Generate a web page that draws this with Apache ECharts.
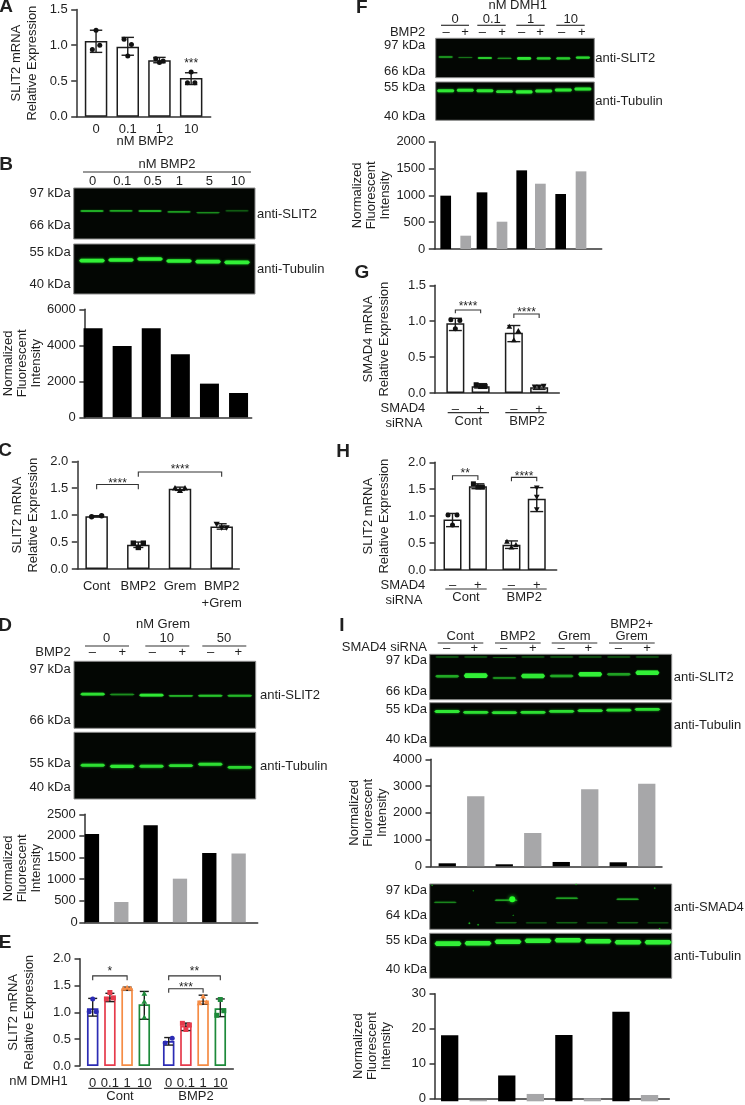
<!DOCTYPE html>
<html><head><meta charset="utf-8">
<style>html,body{margin:0;padding:0;background:#fff}#c{width:745px;height:1105px}</style>
<script src="https://cdn.jsdelivr.net/npm/echarts@6/dist/echarts.min.js"></script>
</head><body><div id="c"></div>
<script>
// ---------- DATA ----------
const A_categories=['0','0.1','1','10'];
const A_values=[1.06,0.98,0.79,0.54];
const A_points=[[1.21,1.0,0.94],[0.85,1.01,1.085],[0.76,0.78,0.81],[0.625,0.475,0.475]];
const A_high=[1.21,1.11,0.83,0.615];
const A_low=[0.90,0.86,0.755,0.45];

const B_categories=['0','0.1','0.5','1','5','10'];
const B_values=[4945,3960,4945,3500,1870,1350];
const B_slit2_pos=[.45,.45,.45,.47,.485,.45];
const B_slit2_int=[.75,.72,.78,.65,.55,.38];
const B_tub_pos=[.333,.32,.30,.34,.353,.367];
const B_tub_int=[1,1,1,1,1,1];

const C_categories=['Cont','BMP2','Grem','BMP2\n+Grem'];
const C_values=[0.98,0.45,1.49,0.79];
const C_points=[[0.97,0.99],[0.40,0.48,0.48],[1.455,1.5,1.5],[0.77,0.77,0.835]];
const C_high=[0.99,0.50,1.52,0.84];
const C_low=[0.97,0.40,1.46,0.74];

const D_categories=['0 –','0 +','10 –','10 +','50 –','50 +'];
const D_values=[2045,470,2245,1010,1605,1590];
const D_slit2_pos=[.49,.495,.505,.515,.515,.515];
const D_slit2_int=[.9,.45,.95,.65,.75,.68];
const D_tub_pos=[.495,.51,.51,.50,.48,.525];
const D_tub_int=[.9,.95,.9,.9,.9,.85];

const E_categories=['0','0.1','1','10'];
const E_values=[1.075,1.28,1.45,1.15,0.465,0.75,1.22,1.075];
const E_points=[[1.25,1.01,1.01],[1.37,1.27,1.25],[1.46,1.44,1.44],[1.35,1.2,0.905],[0.43,0.515],[0.68,0.765,0.795],[1.30,1.185,1.17],[1.24,1.03,0.945]];
const E_high=[1.26,1.355,1.47,1.39,0.53,0.80,1.32,1.25];
const E_low=[0.93,1.2,1.41,0.87,0.39,0.66,1.15,0.92];

const F_categories=['0 –','0 +','0.1 –','0.1 +','1 –','1 +','10 –','10 +'];
const F_values=[994,248,1056,509,1466,1217,1025,1447];
const F_slit2_pos=[.475,.49,.50,.51,.51,.51,.51,.49];
const F_slit2_int=[.55,.3,.8,.45,.95,.8,.8,.85];
const F_tub_pos=[.227,.217,.227,.253,.26,.235,.21,.183];
const F_tub_int=[.95,.95,.95,.9,1,.95,.95,.95];

const G_categories=['–','+'];
const G_values=[0.97,0.093,0.84,0.08];
const G_points=[[0.895,1.01,1.02],[0.09,0.09,0.115],[0.735,0.865,0.925],[0.09,0.1,0.09]];
const G_high=[1.04,0.13,0.94,0.10];
const G_low=[0.87,0.07,0.715,0.05];

const H_categories=['–','+'];
const H_values=[0.94,1.555,0.47,1.325];
const H_points=[[0.835,1.02,1.02],[1.54,1.54,1.6],[0.42,0.465,0.525],[1.53,1.36,1.127]];
const H_high=[1.05,1.6,0.54,1.53];
const H_low=[0.805,1.51,0.40,1.085];

const I_categories=['Cont –','Cont +','BMP2 –','BMP2 +','Grem –','Grem +','BMP2+Grem –','BMP2+Grem +'];
const I_slit2_values=[112,2617,75,1246,162,2878,150,3090];
const I_smad4_values=[18.4,0.4,7.2,2.05,18.5,0.85,25,1.75];
const I_slit2_pos=[.485,.47,.52,.478,.478,.44,.44,.405];
const I_slit2_int=[.6,1,.45,.95,.6,1,.55,1];
const I_slit2_upper_pos=[.06,.06,.07,.06,.06,.06,.06,.06];
const I_slit2_upper_int=[.18,.16,.16,.16,.18,.16,.16,.14];
const I_tub1_pos=[.2,.217,.225,.217,.195,.18,.17,.15];
const I_tub1_int=[.95,.9,.9,.9,.9,.9,.9,.9];
const I_smad4_lanes=[0,2,4,6];
const I_smad4_pos=[.405,.36,.315,.338];
const I_smad4_int=[.4,.55,.55,.55];
const I_smad4_lower_lanes=[2,3,4,5,6,7];
const I_smad4_lower_pos=[.855,.86,.855,.86,.855,.86];
const I_smad4_lower_int=[.22,.18,.22,.18,.22,.15];
const I_smad4_specks=[[.341,.338,3,1],[.164,.868,.8,.6],[.2,.9,.7,.5],[.01,.03,.6,.5],[.18,.15,.5,.4],[.605,.01,.6,.5],[.93,.09,.7,.5],[.345,.69,.5,.4],[.95,.985,.7,.6]];
const I_tub2_pos=[.23,.22,.187,.165,.155,.178,.2,.2];
const I_tub2_int=[1,1,1,1,1,1,1,1];

// ---------- STYLE ----------
const FONT='"Liberation Sans",Arial,sans-serif', TXT='#1f1f1f', AX='#333';
const BLK='#000', GRY='#a7a7a9';
const BLUE='#2c2cb4', RED='#e63b4c', ORG='#f58c45', GRN='#1d8a3a';
const TWO=[BLK,GRY];

const grid=[],xAxis=[],yAxis=[],series=[],graphic=[];

function T(x,y,text,align,size,weight){
  graphic.push({type:'text',silent:true,z:50,style:{x,y,text,fill:TXT,textAlign:align||'center',textVerticalAlign:'middle',font:`${weight||'normal'} ${size||13}px ${FONT}`}});
}
function L(x1,x2,y){
  graphic.push({type:'line',silent:true,z:50,shape:{x1,y1:y,x2,y2:y},style:{stroke:'#333',lineWidth:1.2}});
}
function addGrid(g,x,y){ grid.push(g); const i=grid.length-1; x.gridIndex=i; y.gridIndex=i; xAxis.push(x); yAxis.push(y); return i; }

// axis frame of one chart
function frame(o){
  addGrid({left:o.left,top:o.top,width:o.right-o.left,height:o.bottom-o.top,show:false},
   {type:'value',min:0,max:1,offset:o.offset||0,axisLine:{show:true,onZero:false,lineStyle:{color:AX,width:1.5}},axisTick:{show:false},axisLabel:{show:false},splitLine:{show:false}},
   {type:'value',min:o.min,max:o.max,interval:o.interval,
    axisLine:{show:true,onZero:false,lineStyle:{color:AX,width:1.5}},
    axisTick:{show:true,length:5.5,lineStyle:{color:AX,width:1.5}},
    splitLine:{show:false},
    axisLabel:{margin:9,color:TXT,fontFamily:FONT,fontSize:13,formatter:v=>(o.hideZero&&v===0)?'':(o.fixed!=null?v.toFixed(o.fixed):String(v))},
    name:o.name,nameLocation:'middle',nameRotate:90,nameGap:o.gap,
    nameTextStyle:{color:TXT,fontFamily:FONT,fontSize:13,lineHeight:o.lh||16,align:'center'}});
}
function marker(kind,x,y,r,fill){
  if(kind==='circle') return {type:'circle',shape:{cx:x,cy:y,r},style:{fill}};
  if(kind==='square') return {type:'rect',shape:{x:x-r,y:y-r,width:2*r,height:2*r},style:{fill}};
  if(kind==='tri') return {type:'polygon',shape:{points:[[x,y-r*1.15],[x+r*1.15,y+r*.85],[x-r*1.15,y+r*.85]]},style:{fill}};
  return {type:'polygon',shape:{points:[[x,y+r*1.15],[x+r*1.15,y-r*.85],[x-r*1.15,y-r*.85]]},style:{fill}};
}
// bars, error bars, points and brackets of one group, on a shared scale
function bars(o){
  const idx=addGrid({left:o.left,top:o.top,width:o.width,height:o.bottom-o.top,show:false},
   {type:'category',data:o.cats,axisLine:{show:false},axisTick:{show:false},splitLine:{show:false},
    axisLabel:{show:!!o.labelMargin,interval:0,margin:o.labelMargin||0,color:TXT,fontFamily:FONT,fontSize:13,lineHeight:17,hideOverlap:false}},
   {type:'value',min:o.min,max:o.max,show:false,splitLine:{show:false}});
  series.push({type:'bar',xAxisIndex:idx,yAxisIndex:idx,barWidth:o.barW,z:2,silent:true,animation:false,
    data:o.values.map((v,i)=>({value:v,itemStyle:o.outline
       ?{color:'#fff',borderColor:o.outline[i],borderWidth:o.bw||1.5}
       :{color:o.fills[i]}}))});
  if(o.high){
    const capW=o.cap||6.2;
    series.push({type:'custom',xAxisIndex:idx,yAxisIndex:idx,z:3,silent:true,clip:false,encode:{x:0,y:1},
      data:o.high.map((h,i)=>[i,h,o.low[i]]),
      renderItem:(p,api)=>{
        const a=api.coord([api.value(0),api.value(1)]),b=api.coord([api.value(0),api.value(2)]);
        const st={stroke:'#1c1c1c',lineWidth:1.4};
        return {type:'group',children:[
         {type:'line',shape:{x1:a[0],y1:a[1],x2:b[0],y2:b[1]},style:st},
         {type:'line',shape:{x1:a[0]-capW,y1:a[1],x2:a[0]+capW,y2:a[1]},style:st},
         {type:'line',shape:{x1:b[0]-capW,y1:b[1],x2:b[0]+capW,y2:b[1]},style:st}]};
      }});
  }
  if(o.points){
    const ppu=(o.bottom-o.top)/(o.max-o.min), rows=[];
    o.points.forEach((pts,i)=>{
      const slots=pts.length===2?[-1,1]:[0,1,-1];
      pts.forEach((v,j)=>{
        const near=pts.some((w,k)=>k!==j&&Math.abs(w-v)*ppu<7);
        rows.push([i,v,near?slots[j]:0]);
      });
    });
    series.push({type:'custom',xAxisIndex:idx,yAxisIndex:idx,z:4,silent:true,clip:false,encode:{x:0,y:1},data:rows,
      renderItem:(p,api)=>{
        const i=api.value(0),c=api.coord([i,api.value(1)]);
        return marker(o.markers[i],c[0]+api.value(2)*o.spread,c[1],o.r||2.5,o.pointColors?o.pointColors[i]:'#111');
      }});
  }
  if(o.brackets){
    series.push({type:'custom',xAxisIndex:idx,yAxisIndex:idx,z:5,silent:true,clip:false,encode:{x:0,y:2},data:o.brackets.map(b=>b.slice(0,5)),
      renderItem:(p,api)=>{
        const a=api.coord([api.value(0),api.value(2)]),b=api.coord([api.value(1),api.value(2)]),
              f=api.coord([api.value(0),api.value(3)]),m=api.coord([(api.value(0)+api.value(1))/2,api.value(4)]);
        const lab=o.brackets[p.dataIndex][5];
        return {type:'group',children:[
          {type:'polyline',shape:{points:[[a[0],f[1]],a,b,[b[0],f[1]]]},style:{stroke:'#333',lineWidth:1.1,fill:null}},
          {type:'text',style:{x:(a[0]+b[0])/2,y:m[1],text:lab,fill:TXT,textAlign:'center',textVerticalAlign:'middle',font:`12px ${FONT}`}}]};
      }});
  }
  if(o.stars){
    series.push({type:'custom',xAxisIndex:idx,yAxisIndex:idx,z:5,silent:true,clip:false,encode:{x:0,y:1},data:o.stars.map(s=>s.slice(0,2)),
      renderItem:(p,api)=>{const c=api.coord([api.value(0),api.value(1)]);
        return {type:'text',style:{x:c[0],y:c[1],text:o.stars[p.dataIndex][2],fill:TXT,textAlign:'center',textVerticalAlign:'middle',font:`12px ${FONT}`}};}});
  }
}
// western-blot image: black panel + glowing bands placed by lane and migration position
function blotPanel(o){
  const idx=addGrid({left:o.left,top:o.top,width:o.right-o.left,height:o.bottom-o.top,show:true,backgroundColor:'#030603',borderColor:'#8c8c8c',borderWidth:1},
   {type:'value',min:0,max:1,show:false,splitLine:{show:false}},
   {type:'value',min:0,max:1,inverse:true,show:false,splitLine:{show:false}});
  if(o.specks){
    series.push({type:'custom',xAxisIndex:idx,yAxisIndex:idx,z:3,silent:true,encode:{x:0,y:1},data:o.specks,
      renderItem:(p,api)=>{const c=api.coord([api.value(0),api.value(1)]),b=api.value(3);
        return {type:'circle',shape:{cx:c[0],cy:c[1],r:api.value(2)},style:{fill:`rgb(${Math.round(40*b)},${Math.round(70+185*b)},${Math.round(40*b)})`,shadowBlur:api.value(2)*1.5,shadowColor:'#1fd02a'}};}});
  }
}
function bands(o){
  const idx=addGrid({left:o.laneLeft,top:o.top,width:o.laneWidth,height:o.bottom-o.top,show:false},
   {type:'category',data:o.lanes,show:false},
   {type:'value',min:0,max:1,inverse:true,show:false,splitLine:{show:false}});
  series.push({type:'custom',xAxisIndex:idx,yAxisIndex:idx,z:2,silent:true,clip:false,encode:{x:0,y:1},
    data:o.pos.map((y,i)=>[o.at?o.at[i]:i,y,o.int[i]]),
    renderItem:(p,api)=>{
      const c=api.coord([api.value(0),api.value(1)]),I=api.value(2);
      const w=o.bandW,t=Math.max(.8,o.thick*(.3+.7*I*I)),l=c[0]-w/2,r=c[0]+w/2,y=c[1],e=w*.07;
      return {type:'polygon',shape:{points:[[l,y],[l+e,y-t/2],[r-e,y-t/2],[r,y],[r-e,y+t/2],[l+e,y+t/2]]},
        style:{fill:`rgb(${Math.round(10+40*I)},${Math.round(60+180*I)},${Math.round(10+45*I)})`,shadowBlur:o.glow||2.5,shadowColor:`rgba(20,${Math.round(120+90*I)},30,.9)`}};
    }});
}

// ---------- PANEL A ----------
T(6,7,'A','center',19,'bold');
frame({left:76.7,right:210.7,top:9.5,bottom:116.7,min:0,max:1.5,interval:.5,fixed:1,name:'SLIT2 mRNA\nRelative Expression',gap:36});
bars({left:80.2,width:126.8,top:9.5,bottom:116.7,min:0,max:1.5,cats:A_categories,values:A_values,barW:22.5,outline:A_values.map(()=>'#1c1c1c'),labelMargin:3.8,
  high:A_high,low:A_low,points:A_points,markers:['circle','circle','circle','circle'],spread:3.7,stars:[[3,0.74,'***']]});
T(145,141,'nM BMP2');

// ---------- PANEL B ----------
T(6,165,'B','center',19,'bold');
T(167,164,'nM BMP2'); L(83,251,172);
[92.7,122.3,152.7,179.3,209.3,238].forEach((x,i)=>T(x,181,B_categories[i]));
blotPanel({left:73.7,right:255,top:188,bottom:239});
bands({laneLeft:77.5,laneWidth:174,top:188,bottom:239,lanes:B_categories,pos:B_slit2_pos,int:B_slit2_int,bandW:24,thick:2,glow:1.5});
blotPanel({left:73.7,right:255,top:244,bottom:294});
bands({laneLeft:77.5,laneWidth:174,top:244,bottom:294,lanes:B_categories,pos:B_tub_pos,int:B_tub_int,bandW:26,thick:3.6});
[[193,'97 kDa'],[225,'66 kDa'],[252,'55 kDa'],[284,'40 kDa']].forEach(a=>T(70.7,a[0],a[1],'right'));
T(257,214,'anti-SLIT2','left'); T(257,269,'anti-Tubulin','left');
frame({left:79,right:251.7,top:309.3,bottom:417.3,min:0,max:6000,interval:2000,name:'Normalized\nFluorescent\nIntensity',gap:38,lh:14});
bars({left:78.5,width:174.6,top:309.3,bottom:417.3,min:0,max:6000,cats:B_categories,values:B_values,barW:19,fills:B_values.map(()=>BLK)});

// ---------- PANEL C ----------
T(5,451,'C','center',19,'bold');
frame({left:77.3,right:239.3,top:461.3,bottom:569,min:0,max:2,interval:.5,fixed:1,name:'SLIT2 mRNA\nRelative Expression',gap:36});
bars({left:75.8,width:166.7,top:461.3,bottom:569,min:0,max:2,cats:C_categories,values:C_values,barW:22.5,outline:C_values.map(()=>'#1c1c1c'),labelMargin:9,
  high:C_high,low:C_low,points:C_points,markers:['circle','square','tri','inv'],spread:5,cap:5,r:2.7,
  brackets:[[0,1,1.57,1.48,1.59,'****'],[1,3,1.80,1.715,1.84,'****']]});

// ---------- PANEL D ----------
T(5,626,'D','center',19,'bold');
T(163,624.7,'nM Grem');
[[106.7,'0',85,129],[166.7,'10',145.3,189.3],[224,'50',202.3,246.3]].forEach(a=>{T(a[0],638,a[1]);L(a[2],a[3],646);});
T(70.7,652,'BMP2','right');
[92.3,122.3,152.3,182.3,210.7,238.3].forEach((x,i)=>T(x,652,i%2?'+':'–'));
blotPanel({left:74,right:255.7,top:661.3,bottom:728.3});
bands({laneLeft:78,laneWidth:176.4,top:661.3,bottom:728.3,lanes:D_categories,pos:D_slit2_pos,int:D_slit2_int,bandW:25,thick:3,glow:1.5});
blotPanel({left:74,right:255.7,top:732.3,bottom:799});
bands({laneLeft:78,laneWidth:176.4,top:732.3,bottom:799,lanes:D_categories,pos:D_tub_pos,int:D_tub_int,bandW:25,thick:3.4});
[[669,'97 kDa'],[720.7,'66 kDa'],[763.3,'55 kDa'],[787,'40 kDa']].forEach(a=>T(70.7,a[0],a[1],'right'));
T(260,695,'anti-SLIT2','left'); T(260,766,'anti-Tubulin','left');
frame({left:78.3,right:257.7,top:814.3,bottom:922.3,min:0,max:2500,interval:500,hideZero:true,name:'Normalized\nFluorescent\nIntensity',gap:37,lh:14});
T(74,922.3,'0');
bars({left:77.3,width:176,top:814.3,bottom:922.3,min:0,max:2500,cats:D_categories,values:D_values,barW:14.3,fills:D_values.map((_,i)=>TWO[i%2])});

// ---------- PANEL E ----------
T(5,943,'E','center',19,'bold');
frame({left:80,right:233.3,top:958.7,bottom:1066,offset:2.3,min:0,max:2,interval:.5,fixed:1,name:'SLIT2 mRNA\nRelative Expression',gap:42.5});
const E_col=[BLUE,RED,ORG,GRN];
bars({left:84.1,width:68.8,top:958.7,bottom:1066,min:0,max:2,cats:E_categories,values:E_values.slice(0,4),barW:11.5,bw:1.7,outline:E_col,labelMargin:9,
  high:E_high.slice(0,4),low:E_low.slice(0,4),points:E_points.slice(0,4),markers:['circle','square','tri','tri'],pointColors:E_col,spread:3.5,cap:4.5,
  brackets:[[0,2,1.68,1.60,1.757,'*']]});
bars({left:160.1,width:68.8,top:958.7,bottom:1066,min:0,max:2,cats:E_categories,values:E_values.slice(4),barW:11.5,bw:1.7,outline:E_col,labelMargin:9,
  high:E_high.slice(4),low:E_low.slice(4),points:E_points.slice(4),markers:['circle','square','tri','square'],pointColors:E_col,spread:3.5,cap:4.5,
  brackets:[[0,3,1.68,1.60,1.757,'**'],[0,2,1.44,1.365,1.466,'***']]});
T(67.7,1081.7,'nM DMH1','right');
L(88.3,151.7,1088.3); L(164,227.7,1088.3);
T(120,1096.7,'Cont'); T(196,1096.7,'BMP2');

// ---------- PANEL F ----------
T(361.7,8,'F','center',19,'bold');
T(517.7,5,'nM DMH1');
[[455,'0',441,469],[491.7,'0.1',477.3,505.7],[530.7,'1',516.3,544.7],[570.7,'10',556.3,584.7]].forEach(a=>{T(a[0],19,a[1]);L(a[2],a[3],25.3);});
T(425.3,32.3,'BMP2','right');
[446,465,482.3,502,521.7,540,561.7,581.7].forEach((x,i)=>T(x,32,i%2?'+':'–'));
blotPanel({left:435.7,right:594.3,top:38.3,bottom:77.7});
bands({laneLeft:435.9,laneWidth:156.8,top:38.3,bottom:77.7,lanes:F_categories,pos:F_slit2_pos,int:F_slit2_int,bandW:14.5,thick:2.8,glow:1.5});
blotPanel({left:435.7,right:594.3,top:82,bottom:120.3});
bands({laneLeft:435.9,laneWidth:156.8,top:82,bottom:120.3,lanes:F_categories,pos:F_tub_pos,int:F_tub_int,bandW:17.5,thick:3.2});
[[45.3,'97 kDa'],[71.7,'66 kDa'],[87.7,'55 kDa'],[116.7,'40 kDa']].forEach(a=>T(425.3,a[0],a[1],'right'));
T(595.3,58.3,'anti-SLIT2','left'); T(595.3,101.7,'anti-Tubulin','left');
frame({left:434.3,right:601.7,top:141.7,bottom:249,min:0,max:2000,interval:500,name:'Normalized\nFluorescent\nIntensity',gap:42,lh:14});
[[435.7,40,0],[472,40,2],[512.4,37.3,4],[550.5,40.7,6]].forEach(g=>{
  bars({left:g[0],width:g[1],top:141.7,bottom:249,min:0,max:2000,cats:F_categories.slice(g[2],g[2]+2),values:F_values.slice(g[2],g[2]+2),barW:10.7,fills:TWO});
});

// ---------- PANEL G ----------
T(362,273,'G','center',19,'bold');
frame({left:435,right:559.3,top:285.3,bottom:393,min:0,max:1.5,interval:.5,fixed:1,name:'SMAD4 mRNA\nRelative Expression',gap:42.5});
const G_base={top:285.3,bottom:393,min:0,max:1.5,cats:G_categories,barW:18,labelMargin:7.8,spread:4.5,cap:6.5};
bars(Object.assign({},G_base,{left:442.7,width:50.6,values:G_values.slice(0,2),outline:['#1c1c1c','#1c1c1c'],high:G_high.slice(0,2),low:G_low.slice(0,2),points:G_points.slice(0,2),markers:['circle','square'],
  brackets:[[0,1,1.157,1.11,1.203,'****']]}));
bars(Object.assign({},G_base,{left:501.2,width:50.6,values:G_values.slice(2),outline:['#1c1c1c','#1c1c1c'],high:G_high.slice(2),low:G_low.slice(2),points:G_points.slice(2),markers:['tri','inv'],
  brackets:[[0,1,1.10,1.045,1.115,'****']]}));
T(425.3,408.3,'SMAD4','right'); T(422.3,423.7,'siRNA','right');
L(447.7,489,412.7); L(505.3,546.7,412.7);
T(468.3,421,'Cont'); T(527,421,'BMP2');

// ---------- PANEL H ----------
T(343,452,'H','center',19,'bold');
frame({left:435,right:556.7,top:462.3,bottom:570,min:0,max:2,interval:.5,fixed:1,name:'SLIT2 mRNA\nRelative Expression',gap:42.5});
const H_base={top:462.3,bottom:570,min:0,max:2,cats:H_categories,barW:18,labelMargin:6.8,spread:4.5,cap:6.5};
bars(Object.assign({},H_base,{left:439.8,width:50.8,values:H_values.slice(0,2),outline:['#1c1c1c','#1c1c1c'],high:H_high.slice(0,2),low:H_low.slice(0,2),points:H_points.slice(0,2),markers:['circle','square'],
  brackets:[[0,1,1.75,1.67,1.783,'**']]}));
bars(Object.assign({},H_base,{left:498.8,width:50.6,values:H_values.slice(2),outline:['#1c1c1c','#1c1c1c'],high:H_high.slice(2),low:H_low.slice(2),points:H_points.slice(2),markers:['tri','inv'],
  brackets:[[0,1,1.72,1.65,1.74,'****']]}));
T(425.3,585,'SMAD4','right'); T(422.3,600,'siRNA','right');
L(445.3,486.7,589); L(502.3,546.7,589);
T(466,597.7,'Cont'); T(524.3,597.7,'BMP2');

// ---------- PANEL I ----------
T(342,626,'I','center',19,'bold');
[[460.3,'Cont',437.7,483.3],[517.7,'BMP2',495,540.7],[574.3,'Grem',551.7,597.3],[631.7,'Grem',609,654.7]].forEach(a=>{T(a[0],636.7,a[1]);L(a[2],a[3],643);});
T(631.7,624.3,'BMP2+');
T(427,647.7,'SMAD4 siRNA','right');
[446.7,474.3,503.7,532.7,561,588.3,618.3,647].forEach((x,i)=>T(x,648,i%2?'+':'–'));
blotPanel({left:429.7,right:671.7,top:654.3,bottom:699.7});
bands({laneLeft:432.9,laneWidth:228.8,top:654.3,bottom:699.7,lanes:I_categories,pos:I_slit2_upper_pos,int:I_slit2_upper_int,bandW:24,thick:1.5,glow:1});
bands({laneLeft:432.9,laneWidth:228.8,top:654.3,bottom:699.7,lanes:I_categories,pos:I_slit2_pos,int:I_slit2_int,bandW:24,thick:4.6,glow:1.5});
blotPanel({left:429.7,right:671.7,top:702.7,bottom:747});
bands({laneLeft:432.9,laneWidth:228.8,top:702.7,bottom:747,lanes:I_categories,pos:I_tub1_pos,int:I_tub1_int,bandW:26,thick:3.2});
[[660,'97 kDa'],[691.7,'66 kDa'],[709.3,'55 kDa'],[739.3,'40 kDa']].forEach(a=>T(427,a[0],a[1],'right'));
T(673.7,677.7,'anti-SLIT2','left'); T(673.7,725,'anti-Tubulin','left');
frame({left:431,right:662,top:759.3,bottom:866.3,min:0,max:4000,interval:1000,name:'Normalized\nFluorescent\nIntensity',gap:38,lh:14});
bars({left:433,width:228,top:759.3,bottom:866.3,min:0,max:4000,cats:I_categories,values:I_slit2_values,barW:17.3,fills:I_slit2_values.map((_,i)=>TWO[i%2])});
blotPanel({left:429.7,right:671.7,top:884,bottom:929.3,specks:I_smad4_specks});
bands({laneLeft:430,laneWidth:243.2,top:884,bottom:929.3,lanes:I_categories,pos:I_smad4_lower_pos,at:I_smad4_lower_lanes,int:I_smad4_lower_int,bandW:22,thick:2.5,glow:1});
bands({laneLeft:430,laneWidth:243.2,top:884,bottom:929.3,lanes:I_categories,pos:I_smad4_pos,at:I_smad4_lanes,int:I_smad4_int,bandW:23,thick:3,glow:1.5});
blotPanel({left:429.7,right:671.7,top:933.3,bottom:978.3});
bands({laneLeft:433,laneWidth:240,top:933.3,bottom:978.3,lanes:I_categories,pos:I_tub2_pos,int:I_tub2_int,bandW:27,thick:4.6});
[[890.7,'97 kDa'],[915,'64 kDa'],[940,'55 kDa'],[969.3,'40 kDa']].forEach(a=>T(427,a[0],a[1],'right'));
T(673.7,907.3,'anti-SMAD4','left'); T(673.7,956,'anti-Tubulin','left');
frame({left:435,right:669.3,top:993.7,bottom:1101.3,min:0,max:30,interval:10,name:'Normalized\nFluorescent\nIntensity',gap:42,lh:14});
bars({left:435.4,width:228.4,top:993.7,bottom:1101.3,min:0,max:30,cats:I_categories,values:I_smad4_values,barW:17.3,fills:I_smad4_values.map((_,i)=>TWO[i%2])});

const chart=echarts.init(document.getElementById('c'),null,{renderer:'canvas'});
chart.setOption({animation:false,backgroundColor:'#fff',tooltip:{show:false},grid,xAxis,yAxis,series,graphic:{elements:graphic}});
</script></body></html>
